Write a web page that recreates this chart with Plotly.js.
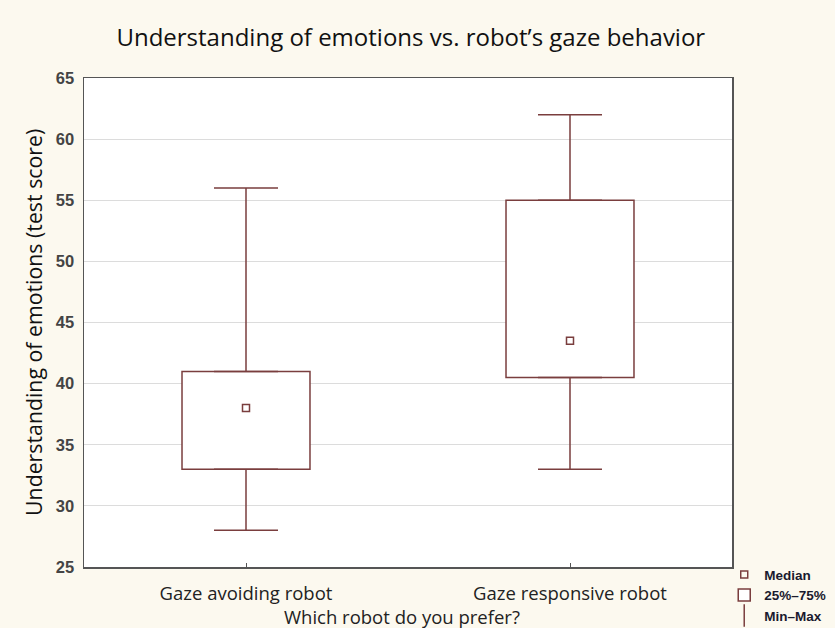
<!DOCTYPE html>
<html>
<head>
<meta charset="utf-8">
<script src="https://cdn.plot.ly/plotly-3.0.1.min.js"></script>
<style>html,body{margin:0;padding:0;background:#fcf9ef;}#chart{width:835px;height:628px;}</style>
</head>
<body>
<div id="chart"></div>
<script>
const categories = ["Gaze avoiding robot", "Gaze responsive robot"];
const minVals = [28, 33];
const q1Vals = [33, 40.5];
const medianVals = [38, 43.5];
const q3Vals = [41, 55];
const maxVals = [56, 62];
const yTicks = [25, 30, 35, 40, 45, 50, 55, 60, 65];

const boxColor = "#7a3e3e";

const boxTrace = {
  type: "bar",
  name: "25%–75%",
  x: categories,
  base: q1Vals,
  y: q3Vals.map((v, i) => v - q1Vals[i]),
  width: 0.395,
  marker: { color: "#ffffff", line: { color: boxColor, width: 1.5 } },
  hoverinfo: "skip",
  legendrank: 2
};

const upperWhisker = {
  type: "scatter",
  mode: "markers",
  x: categories,
  y: q3Vals,
  marker: { size: 1, color: "rgba(0,0,0,0)" },
  error_y: { type: "data", symmetric: false, array: maxVals.map((v, i) => v - q3Vals[i]), arrayminus: [0, 0], color: boxColor, thickness: 1.5, width: 32 },
  showlegend: false,
  hoverinfo: "skip"
};

const lowerWhisker = {
  type: "scatter",
  mode: "markers",
  x: categories,
  y: q1Vals,
  marker: { size: 1, color: "rgba(0,0,0,0)" },
  error_y: { type: "data", symmetric: false, array: [0, 0], arrayminus: q1Vals.map((v, i) => v - minVals[i]), color: boxColor, thickness: 1.5, width: 32 },
  showlegend: false,
  hoverinfo: "skip"
};

const medianTrace = {
  type: "scatter",
  mode: "markers",
  name: "Median",
  x: categories,
  y: medianVals,
  marker: { symbol: "square-open", size: 7, color: boxColor, line: { width: 1.5, color: boxColor } },
  legendrank: 1
};

const minMaxLegend = {
  type: "scatter",
  mode: "markers",
  name: "Min–Max",
  x: [null],
  y: [null],
  marker: { symbol: "line-ns-open", size: 16, color: boxColor, line: { width: 1.5, color: boxColor } },
  legendrank: 3
};

const layout = {
  width: 835,
  height: 628,
  paper_bgcolor: "#fcf9ef",
  plot_bgcolor: "#ffffff",
  margin: { l: 84, r: 103, t: 78, b: 61, autoexpand: false },
  barmode: "overlay",
  title: {
    text: "Understanding of emotions vs. robot’s gaze behavior",
    font: { family: "Open Sans", size: 24, color: "#111111" },
    x: 0.492, xref: "container", xanchor: "center",
    y: 0.94, yref: "container", yanchor: "middle"
  },
  xaxis: {
    type: "category",
    range: [-0.5, 1.5],
    showgrid: false,
    ticks: "inside",
    ticklen: 4,
    tickcolor: "#555",
    ticklabelstandoff: 9,
    tickfont: { family: "Open Sans", size: 18.5, color: "#222" },
    showline: true, mirror: true, linecolor: "#555", linewidth: 1.5,
    zeroline: false
  },
  yaxis: {
    range: [25, 65],
    tickvals: yTicks,
    ticktext: yTicks.map(String),
    showgrid: true, gridcolor: "#dcdcdc", gridwidth: 1,
    ticks: "",
    ticklabelstandoff: 5,
    tickfont: { family: "Liberation Sans", size: 16.5, color: "#444444", weight: "bold" },
    showline: true, mirror: true, linecolor: "#555", linewidth: 1.5,
    zeroline: false
  },
  annotations: [
    {
      text: "Which robot do you prefer?",
      xref: "paper", yref: "paper",
      x: 0.491, y: -0.102, xanchor: "center", yanchor: "middle",
      showarrow: false,
      font: { family: "Open Sans", size: 18.5, color: "#222" }
    },
    {
      text: "Understanding of emotions (test score)",
      xref: "paper", yref: "paper",
      x: -0.078, y: 0.5, xanchor: "center", yanchor: "middle",
      textangle: -90,
      showarrow: false,
      font: { family: "Open Sans", size: 21.3, color: "#111" }
    }
  ],
  legend: {
    x: 0.988, xanchor: "left",
    y: 0.016, yanchor: "top",
    bgcolor: "rgba(0,0,0,0)",
    font: { family: "Liberation Sans", size: 13.5, color: "#1a1a2e", weight: "bold" },
    tracegroupgap: 0,
    itemwidth: 30
  },
  showlegend: true
};

Plotly.newPlot("chart", [boxTrace, upperWhisker, lowerWhisker, medianTrace, minMaxLegend], layout, { displayModeBar: false, staticPlot: true });
</script>
</body>
</html>
